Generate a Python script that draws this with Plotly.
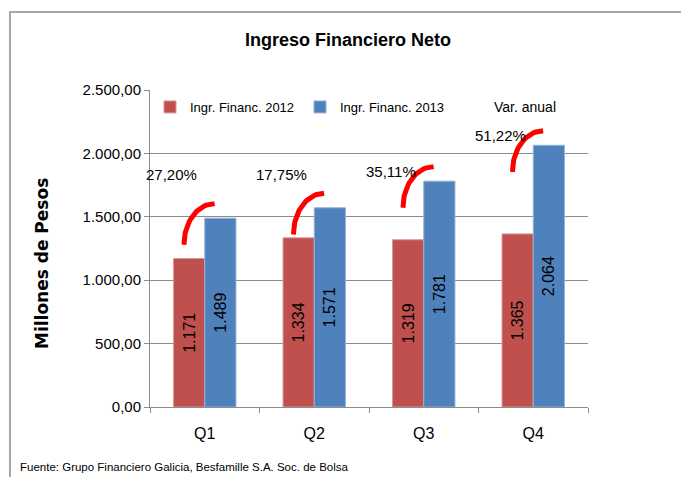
import numpy as np
import plotly.graph_objects as go

categories = ["Q1", "Q2", "Q3", "Q4"]
ingr_2012 = [1171, 1334, 1319, 1365]
ingr_2013 = [1489, 1571, 1781, 2064]
var_anual = [0.2720, 0.1775, 0.3511, 0.5122]

FONT = "Liberation Sans, Arial, sans-serif"
RED = "#C0504D"
BLUE = "#4F81BD"
GRID = "#8C8C8C"

# page body has an 8px margin; figure sized to fit the window
W, H = 681, 469
L, T = 142, 82
PW, PH = 438, 317

x = np.arange(len(categories))

def fmt(v):
    return f"{v:,}".replace(",", ".")

fig = go.Figure()
fig.add_bar(x=x, y=ingr_2012, name="Ingr. Financ. 2012", marker_color=RED,
            marker_line=dict(color="#D99694", width=1),
            text=[fmt(v) for v in ingr_2012], textposition="inside", textangle=-90,
            insidetextanchor="middle", textfont=dict(family=FONT, size=16, color="black"))
fig.add_bar(x=x, y=ingr_2013, name="Ingr. Financ. 2013", marker_color=BLUE,
            marker_line=dict(color="#95B3D7", width=1),
            text=[fmt(v) for v in ingr_2013], textposition="inside", textangle=-90,
            insidetextanchor="middle", textfont=dict(family=FONT, size=16, color="black"))

# red arcs above each pair ("Var. anual"), anchored to the 2013 bar
t = np.linspace(np.pi, np.pi / 2, 30)
for i, (b, v) in enumerate(zip(ingr_2013, var_anual)):
    cx = x[i] + 0.09
    cy = b - 210
    ax = cx + 0.28 * np.cos(t)
    ay = cy + 325 * np.sin(t)
    fig.add_scatter(x=ax, y=ay, mode="lines", line=dict(color="#FF0000", width=5),
                    name="Var. anual", legendgroup="var", showlegend=False,
                    hoverinfo="skip")
    fig.add_annotation(x=x[i] - 0.3, y=max(b + 80, 1830), xref="x", yref="y",
                       text=f"{v*100:.2f}%".replace(".", ","), showarrow=False,
                       font=dict(family=FONT, size=15, color="black"),
                       xanchor="center", yanchor="middle")

fig.update_layout(
    width=W, height=H,
    margin=dict(l=L, r=W - L - PW, t=T, b=H - T - PH),
    paper_bgcolor="white", plot_bgcolor="white",
    separators=",.",
    barmode="group", bargap=0.43, bargroupgap=0,
    title=dict(text="<b>Ingreso Financiero Neto</b>", x=(348 - 8) / W, y=1 - 32 / H,
               xanchor="center", yanchor="middle",
               font=dict(family=FONT, size=18, color="black")),
    legend=dict(orientation="h", x=0, y=(407 - 107) / PH,
                xanchor="left", yanchor="middle",
                font=dict(family=FONT, size=13, color="black"),
                bgcolor="rgba(0,0,0,0)", itemwidth=30, traceorder="normal",
                entrywidth=105, entrywidthmode="pixels"),
    xaxis=dict(range=[-0.5, 3.5], tickvals=list(x), ticktext=categories,
               showgrid=False, ticks="", showline=True, linecolor=GRID, linewidth=1,
               tickfont=dict(family=FONT, size=16, color="black"),
               ticklabelstandoff=12,
               minor=dict(ticks="outside", tick0=-0.5, dtick=1, ticklen=5,
                          tickcolor=GRID, showgrid=False),
               zeroline=False),
    yaxis=dict(range=[0, 2500], dtick=500, tickformat=",.2f", showgrid=True,
               gridcolor=GRID, gridwidth=1, showline=True, linecolor=GRID,
               ticks="outside", ticklen=5, tickcolor=GRID, zeroline=False,
               tickfont=dict(family=FONT, size=15, color="black")),
    yaxis2=dict(range=[0, 0.6], dtick=0.1, tickformat=".2%", overlaying="y",
                side="right", showgrid=False, showline=True, linecolor=GRID,
                ticks="outside", ticklen=5, tickcolor=GRID, zeroline=False,
                tickfont=dict(family=FONT, size=15, color="black")),
)

# legend text for the arc series (Excel shows it without a symbol)
fig.add_annotation(text="Var. anual", xref="paper", yref="paper",
                   x=(492 - 150) / PW, y=(407 - 107) / PH, showarrow=False,
                   xanchor="left", yanchor="middle",
                   font=dict(family=FONT, size=14, color="black"))
fig.add_annotation(text="<b>Millones de Pesos</b>", xref="paper", yref="paper",
                   x=(42 - 150) / PW, y=(407 - 264) / PH, textangle=-90,
                   showarrow=False, xanchor="center", yanchor="middle",
                   font=dict(family="DejaVu Sans", size=17, color="black"))
fig.add_annotation(text="Fuente: Grupo Financiero Galicia, Besfamille S.A. Soc. de Bolsa",
                   xref="paper", yref="paper", x=(18 - 150) / PW, y=(407 - 467) / PH,
                   showarrow=False, xanchor="left", yanchor="middle",
                   font=dict(family=FONT, size=11.5, color="black"))
fig.add_shape(type="rect", xref="paper", yref="paper",
              x0=(10 - 150) / PW, x1=(687 - 150) / PW,
              y0=(407 - 490) / PH, y1=(407 - 12) / PH,
              line=dict(color="#A6A6A6", width=2), fillcolor="rgba(0,0,0,0)", layer="below")

fig.write_html("out.html")
